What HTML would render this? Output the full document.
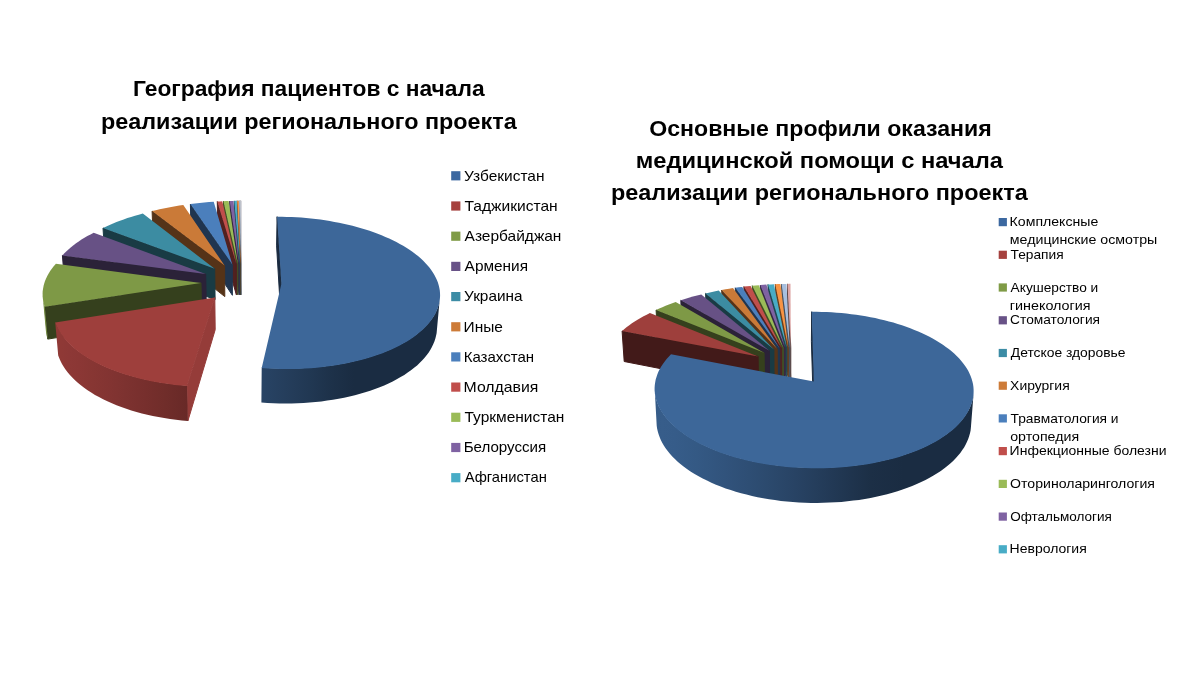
<!DOCTYPE html>
<html lang="ru"><head><meta charset="utf-8"><title>Диаграммы</title>
<style>
html,body{margin:0;padding:0;background:#fff;}
body{width:1200px;height:673px;overflow:hidden;font-family:"Liberation Sans",sans-serif;}
svg{display:block;}
text{font-family:"Liberation Sans",sans-serif;fill:#000;}
.t{font-weight:bold;}
</style></head><body>
<svg width="1200" height="673" viewBox="0 0 1200 673">
<rect width="1200" height="673" fill="#fff"/>
<defs><linearGradient id="Lg0_52" gradientUnits="userSpaceOnUse" x1="261.4" x2="439.6" y1="0" y2="0"><stop offset="0.001" stop-color="#284465"/><stop offset="0.135" stop-color="#253e5c"/><stop offset="0.268" stop-color="#213853"/><stop offset="0.397" stop-color="#1d3149"/><stop offset="0.519" stop-color="#1a2c42"/><stop offset="0.631" stop-color="#1a2c42"/><stop offset="0.731" stop-color="#1a2c42"/><stop offset="0.816" stop-color="#1a2c42"/><stop offset="0.886" stop-color="#1a2c42"/><stop offset="0.938" stop-color="#1a2c42"/><stop offset="0.973" stop-color="#1a2c42"/><stop offset="0.991" stop-color="#1a2c42"/></linearGradient><linearGradient id="Lg1_0" gradientUnits="userSpaceOnUse" x1="55.2" x2="187.9" y1="0" y2="0"><stop offset="0.011" stop-color="#8f3936"/><stop offset="0.048" stop-color="#8f3936"/><stop offset="0.106" stop-color="#8d3836"/><stop offset="0.183" stop-color="#8b3735"/><stop offset="0.280" stop-color="#873633"/><stop offset="0.396" stop-color="#833432"/><stop offset="0.528" stop-color="#7d3230"/><stop offset="0.674" stop-color="#772f2d"/><stop offset="0.831" stop-color="#702d2a"/><stop offset="0.996" stop-color="#682927"/></linearGradient><linearGradient id="Lg2_0" gradientUnits="userSpaceOnUse" x1="42.9" x2="47.7" y1="0" y2="0"><stop offset="0.313" stop-color="#71893f"/><stop offset="0.691" stop-color="#728a3f"/></linearGradient><linearGradient id="Rg0_50" gradientUnits="userSpaceOnUse" x1="654.9" x2="973.5" y1="0" y2="0"><stop offset="0.003" stop-color="#365c88"/><stop offset="0.021" stop-color="#375d8a"/><stop offset="0.064" stop-color="#365c89"/><stop offset="0.131" stop-color="#345984"/><stop offset="0.219" stop-color="#31537c"/><stop offset="0.324" stop-color="#2d4c71"/><stop offset="0.441" stop-color="#284364"/><stop offset="0.560" stop-color="#223955"/><stop offset="0.676" stop-color="#1c2f46"/><stop offset="0.781" stop-color="#1a2c42"/><stop offset="0.869" stop-color="#1a2c42"/><stop offset="0.936" stop-color="#1a2c42"/><stop offset="0.978" stop-color="#1a2c42"/><stop offset="0.996" stop-color="#1a2c42"/></linearGradient></defs>
<g id="pieL"><path d="M241.1 263.9L240.4 200.8L240.4 229.4L241.1 294.8Z" fill="#5a5a5c" stroke="#5a5a5c" stroke-width="1"/><path d="M241.1 263.9L241.1 200.8L241.1 229.4L241.1 294.8Z" fill="#d2d2d7" stroke="#d2d2d7" stroke-width="1"/><path d="M241.1 263.9L240.4 200.8L240.8 200.8L241.1 200.8Z" fill="#d6d6dc"/>
<path d="M240.9 263.9L239.1 200.8L239.2 229.4L240.9 294.8Z" fill="#4b525c" stroke="#4b525c" stroke-width="1"/><path d="M240.9 263.9L239.1 200.8L239.7 200.8L240.2 200.8Z" fill="#b2c4dc"/>
<path d="M240.5 263.9L237.2 200.8L237.3 229.4L240.5 294.8Z" fill="#683e1d" stroke="#683e1d" stroke-width="1"/><path d="M240.5 263.9L237.2 200.8L238.0 200.8L238.8 200.8Z" fill="#f79444"/>
<path d="M239.9 263.9L234.3 200.9L234.4 229.4L239.9 294.8Z" fill="#1e4853" stroke="#1e4853" stroke-width="1"/><path d="M239.9 263.9L234.3 200.9L235.5 200.8L236.7 200.8Z" fill="#48acc6"/>
<path d="M239.0 263.9L229.8 201.0L229.9 229.5L239.1 294.8Z" fill="#352944" stroke="#352944" stroke-width="1"/><path d="M239.0 263.9L229.8 201.0L231.6 200.9L233.5 200.9Z" fill="#7f62a2"/>
<path d="M237.8 264.0L223.5 201.2L223.8 229.8L237.8 294.9Z" fill="#414f25" stroke="#414f25" stroke-width="1"/><path d="M237.8 264.0L223.5 201.2L226.1 201.1L228.6 201.0Z" fill="#9abb57"/>
<path d="M236.4 264.0L217.3 201.5L217.7 230.1L236.4 294.9Z" fill="#512120" stroke="#512120" stroke-width="1"/><path d="M236.4 264.0L217.3 201.5L219.8 201.4L222.3 201.2Z" fill="#c04e4b"/>
<path d="M232.3 264.4L190.4 204.0L191.0 232.7L232.4 295.3Z" fill="#20354f" stroke="#20354f" stroke-width="1"/><path d="M232.3 264.4L190.4 204.0L195.0 203.5L199.6 202.9L204.3 202.5L209.0 202.1L213.7 201.8Z" fill="#4b7fbc"/>
<path d="M224.6 265.6L152.1 211.1L153.2 240.0L224.8 296.6Z" fill="#553318" stroke="#553318" stroke-width="1"/><path d="M224.6 265.6L152.1 211.1L155.8 210.2L159.6 209.3L163.5 208.5L167.4 207.7L171.3 206.9L175.3 206.3L179.3 205.6L183.3 205.1Z" fill="#ca7a38"/>
<path d="M214.7 268.7L103.0 228.0L104.9 257.6L215.1 299.7Z" fill="#193b44" stroke="#193b44" stroke-width="1"/><path d="M214.7 268.7L103.0 228.0L106.3 226.5L109.6 225.0L113.0 223.5L116.5 222.1L120.0 220.7L123.7 219.4L127.4 218.1L131.1 216.9L135.0 215.8L138.8 214.7L142.8 213.6Z" fill="#3c8ca2"/>
<path d="M205.7 274.1L62.4 255.4L64.9 286.0L206.3 305.4Z" fill="#2b2238" stroke="#2b2238" stroke-width="1"/><path d="M205.7 274.1L62.4 255.4L64.4 253.3L66.5 251.2L68.7 249.2L71.0 247.2L73.5 245.2L76.1 243.3L78.7 241.5L81.5 239.6L84.4 237.8L87.4 236.1L90.5 234.4L93.7 232.8Z" fill="#675185"/>
<path d="M201.0 282.9L44.7 306.7L47.7 339.1L201.6 314.5Z" fill="#35401d" stroke="#35401d" stroke-width="1"/><path d="M44.7 306.1L43.9 303.5L43.3 300.9L42.9 298.2L45.9 331.0L46.3 333.7L46.9 336.4L47.7 339.1Z" fill="url(#Lg2_0)"/><path d="M201.0 282.9L44.7 306.7L43.9 304.1L43.3 301.5L42.9 298.8L42.6 296.2L42.6 293.6L42.7 291.0L43.1 288.4L43.6 285.8L44.3 283.2L45.1 280.7L46.2 278.2L47.4 275.7L48.8 273.2L50.3 270.8L52.0 268.4L53.9 266.0L55.9 263.7Z" fill="#7e9946"/>
<path d="M281.4 283.8L277.1 216.7L276.6 245.9L280.8 315.4Z" fill="#1a2b40" stroke="#1a2b40" stroke-width="1"/><path d="M439.6 300.5L439.1 303.2L438.3 305.8L437.4 308.5L436.3 311.1L435.0 313.8L433.4 316.4L431.7 319.0L429.7 321.6L427.6 324.1L425.2 326.6L422.7 329.1L419.9 331.5L417.0 333.9L413.8 336.3L410.5 338.6L407.0 340.8L403.2 343.0L399.3 345.1L395.2 347.1L391.0 349.1L386.6 350.9L382.0 352.8L377.2 354.5L372.3 356.1L367.3 357.7L362.1 359.1L356.8 360.5L351.4 361.7L345.9 362.9L340.2 363.9L334.5 364.9L328.7 365.7L322.8 366.5L316.8 367.1L310.8 367.6L304.7 368.0L298.6 368.3L292.4 368.4L286.3 368.5L280.1 368.4L274.0 368.2L267.8 367.9L261.7 367.5L261.4 402.5L267.4 402.9L273.4 403.2L279.5 403.4L285.5 403.5L291.6 403.4L297.6 403.2L303.6 403.0L309.6 402.5L315.5 402.0L321.4 401.4L327.2 400.6L332.9 399.8L338.6 398.8L344.1 397.7L349.6 396.5L354.9 395.2L360.1 393.8L365.2 392.3L370.2 390.7L375.0 389.0L379.7 387.2L384.2 385.4L388.5 383.4L392.7 381.4L396.7 379.3L400.6 377.1L404.3 374.9L407.7 372.6L411.0 370.2L414.1 367.8L417.1 365.4L419.8 362.8L422.3 360.3L424.6 357.7L426.8 355.1L428.7 352.4L430.4 349.7L431.9 347.0L433.2 344.3L434.4 341.6L435.3 338.8L436.0 336.0L436.6 333.3Z" fill="url(#Lg0_52)"/><path d="M281.4 283.8L277.1 216.7L281.9 216.8L286.8 216.9L291.6 217.1L296.5 217.3L301.3 217.6L306.1 218.0L310.9 218.5L315.6 219.0L320.4 219.6L325.1 220.3L329.8 221.0L334.4 221.9L339.0 222.7L343.5 223.7L348.0 224.7L352.5 225.8L356.8 227.0L361.1 228.2L365.4 229.5L369.6 230.8L373.7 232.2L377.7 233.7L381.6 235.3L385.4 236.9L389.2 238.5L392.8 240.3L396.4 242.1L399.8 243.9L403.2 245.8L406.4 247.8L409.5 249.8L412.4 251.8L415.3 254.0L418.0 256.1L420.6 258.3L423.0 260.6L425.3 262.9L427.4 265.2L429.4 267.6L431.2 270.0L432.9 272.5L434.4 275.0L435.7 277.5L436.9 280.0L437.9 282.6L438.7 285.2L439.3 287.8L439.8 290.5L440.0 293.1L440.1 295.8L439.9 298.4L439.6 301.1L439.1 303.8L438.3 306.4L437.4 309.1L436.3 311.7L435.0 314.4L433.4 317.0L431.7 319.6L429.7 322.2L427.6 324.7L425.2 327.2L422.7 329.7L419.9 332.1L417.0 334.5L413.8 336.9L410.5 339.2L407.0 341.4L403.2 343.6L399.3 345.7L395.2 347.7L391.0 349.7L386.6 351.5L382.0 353.4L377.2 355.1L372.3 356.7L367.3 358.3L362.1 359.7L356.8 361.1L351.4 362.3L345.9 363.5L340.2 364.5L334.5 365.5L328.7 366.3L322.8 367.1L316.8 367.7L310.8 368.2L304.7 368.6L298.6 368.9L292.4 369.0L286.3 369.1L280.1 369.0L274.0 368.8L267.8 368.5L261.7 368.1Z" fill="#3d6799"/>
<path d="M214.8 297.6L187.0 386.0L187.9 420.9L215.2 329.7Z" fill="#953c39" stroke="#953c39" stroke-width="1"/><path d="M187.0 385.4L180.9 384.9L174.8 384.3L168.8 383.5L162.9 382.7L157.0 381.7L151.3 380.6L145.7 379.4L140.1 378.1L134.7 376.7L129.4 375.2L124.3 373.7L119.2 372.0L114.4 370.2L109.7 368.4L105.1 366.4L100.7 364.4L96.5 362.3L92.5 360.1L88.6 357.9L85.0 355.6L81.5 353.3L78.2 350.9L75.1 348.4L72.2 345.9L69.5 343.4L67.0 340.8L64.7 338.1L62.6 335.5L60.8 332.8L59.1 330.1L57.6 327.4L56.3 324.7L55.2 321.9L58.2 355.4L59.3 358.3L60.5 361.1L62.0 363.9L63.7 366.7L65.5 369.4L67.6 372.2L69.9 374.9L72.3 377.6L75.0 380.2L77.8 382.8L80.9 385.3L84.1 387.8L87.6 390.2L91.2 392.6L95.0 394.9L99.0 397.1L103.1 399.3L107.4 401.3L111.9 403.3L116.5 405.2L121.3 407.1L126.3 408.8L131.3 410.4L136.5 412.0L141.9 413.4L147.3 414.7L152.8 416.0L158.5 417.1L164.2 418.1L170.1 419.0L176.0 419.7L181.9 420.4L187.9 420.9Z" fill="url(#Lg1_0)"/><path d="M214.8 297.6L187.0 386.0L180.9 385.5L174.8 384.9L168.8 384.1L162.9 383.3L157.0 382.3L151.3 381.2L145.7 380.0L140.1 378.7L134.7 377.3L129.4 375.8L124.3 374.3L119.2 372.6L114.4 370.8L109.7 369.0L105.1 367.0L100.7 365.0L96.5 362.9L92.5 360.7L88.6 358.5L85.0 356.2L81.5 353.9L78.2 351.5L75.1 349.0L72.2 346.5L69.5 344.0L67.0 341.4L64.7 338.7L62.6 336.1L60.8 333.4L59.1 330.7L57.6 328.0L56.3 325.3L55.2 322.5Z" fill="#9e3f3c"/></g>
<g id="pieR"><path d="M790.8 347.6L787.5 283.9L787.5 312.9L790.8 378.7Z" fill="#5d4645" stroke="#5d4645" stroke-width="1"/><path d="M790.8 347.6L787.5 283.9L789.0 283.8L790.5 283.8Z" fill="#dea6a5"/>
<path d="M789.7 347.6L781.7 284.0L781.8 313.0L789.7 378.7Z" fill="#46505d" stroke="#46505d" stroke-width="1"/><path d="M789.7 347.6L781.7 284.0L784.1 283.9L786.5 283.9Z" fill="#a7bfde"/>
<path d="M788.3 347.7L775.3 284.2L775.5 313.2L788.4 378.7Z" fill="#683e1d" stroke="#683e1d" stroke-width="1"/><path d="M788.3 347.7L775.3 284.2L777.9 284.1L780.5 284.0Z" fill="#f79444"/>
<path d="M786.8 347.7L768.0 284.5L768.2 313.5L786.8 378.8Z" fill="#1e4853" stroke="#1e4853" stroke-width="1"/><path d="M786.8 347.7L768.0 284.5L770.9 284.4L773.9 284.2Z" fill="#48acc6"/>
<path d="M785.1 347.8L760.3 285.0L760.7 314.1L785.2 378.9Z" fill="#352944" stroke="#352944" stroke-width="1"/><path d="M785.1 347.8L760.3 285.0L763.4 284.8L766.4 284.6Z" fill="#7f62a2"/>
<path d="M783.4 348.0L752.3 285.7L752.7 314.8L783.5 379.1Z" fill="#414f25" stroke="#414f25" stroke-width="1"/><path d="M783.4 348.0L752.3 285.7L755.5 285.4L758.8 285.2Z" fill="#9abb57"/>
<path d="M781.6 348.2L743.9 286.6L744.5 315.7L781.7 379.3Z" fill="#512120" stroke="#512120" stroke-width="1"/><path d="M781.6 348.2L743.9 286.6L747.3 286.3L750.6 285.9Z" fill="#c04e4b"/>
<path d="M779.7 348.4L735.3 287.8L736.0 316.9L779.8 379.6Z" fill="#20354f" stroke="#20354f" stroke-width="1"/><path d="M779.7 348.4L735.3 287.8L738.7 287.3L742.2 286.9Z" fill="#4b7fbc"/>
<path d="M777.2 348.9L721.7 290.0L722.6 319.2L777.4 380.0Z" fill="#553318" stroke="#553318" stroke-width="1"/><path d="M777.2 348.9L721.7 290.0L725.5 289.3L729.2 288.7L733.0 288.1Z" fill="#ca7a38"/>
<path d="M773.9 349.6L705.6 293.4L706.6 322.7L774.1 380.7Z" fill="#193b44" stroke="#193b44" stroke-width="1"/><path d="M773.9 349.6L705.6 293.4L709.9 292.4L714.2 291.4L718.7 290.6Z" fill="#3c8ca2"/>
<path d="M769.4 350.8L680.8 300.3L682.1 329.9L769.6 382.0Z" fill="#2b2238" stroke="#2b2238" stroke-width="1"/><path d="M769.4 350.8L680.8 300.3L684.8 299.0L688.8 297.8L692.9 296.6L697.1 295.5L701.3 294.4Z" fill="#675185"/>
<path d="M764.1 352.8L656.1 310.0L657.8 339.8L764.5 384.1Z" fill="#35401d" stroke="#35401d" stroke-width="1"/><path d="M764.1 352.8L656.1 310.0L659.2 308.5L662.4 307.2L665.6 305.8L668.9 304.5L672.3 303.3L675.7 302.1Z" fill="#7e9946"/>
<path d="M758.1 356.4L622.1 331.0L624.2 361.5L758.5 387.8Z" fill="#421a19" stroke="#421a19" stroke-width="1"/><path d="M758.1 356.4L622.1 331.0L624.4 329.0L626.8 327.1L629.3 325.2L631.9 323.3L634.7 321.5L637.5 319.7L640.5 318.0L643.5 316.3L646.7 314.7L649.9 313.1Z" fill="#9e3f3c"/>
<path d="M813.9 381.6L811.7 311.7L811.4 341.6L813.6 413.8Z" fill="#1a2b40" stroke="#1a2b40" stroke-width="1"/><path d="M973.5 394.5L973.1 397.2L972.5 400.0L971.7 402.7L970.7 405.5L969.5 408.2L968.1 410.9L966.5 413.6L964.7 416.3L962.7 419.0L960.5 421.6L958.1 424.2L955.5 426.8L952.6 429.3L949.6 431.7L946.4 434.2L943.0 436.5L939.4 438.8L935.6 441.1L931.6 443.2L927.5 445.3L923.1 447.4L918.7 449.3L914.0 451.2L909.2 453.0L904.2 454.7L899.2 456.3L893.9 457.8L888.6 459.2L883.1 460.5L877.5 461.7L871.8 462.8L866.0 463.8L860.2 464.7L854.2 465.5L848.2 466.1L842.2 466.7L836.1 467.1L829.9 467.4L823.7 467.6L817.6 467.7L811.4 467.6L805.2 467.5L799.0 467.2L792.9 466.8L786.8 466.3L780.7 465.7L774.7 465.0L768.8 464.1L762.9 463.1L757.1 462.1L751.4 460.9L745.8 459.6L740.3 458.2L735.0 456.8L729.7 455.2L724.6 453.5L719.7 451.8L714.9 449.9L710.2 448.0L705.7 446.0L701.4 443.9L697.2 441.8L693.2 439.5L689.4 437.3L685.8 434.9L682.4 432.5L679.1 430.1L676.1 427.6L673.2 425.0L670.6 422.4L668.1 419.8L665.9 417.2L663.8 414.5L662.0 411.8L660.4 409.1L658.9 406.4L657.7 403.6L656.7 400.9L655.9 398.1L655.3 395.3L654.9 392.6L656.7 425.7L657.1 428.5L657.8 431.4L658.6 434.2L659.6 437.0L660.8 439.9L662.2 442.7L663.8 445.5L665.6 448.3L667.7 451.0L669.9 453.7L672.3 456.4L674.9 459.1L677.7 461.7L680.7 464.3L683.9 466.8L687.3 469.3L690.9 471.7L694.6 474.0L698.6 476.3L702.7 478.5L707.0 480.6L711.4 482.7L716.0 484.7L720.7 486.6L725.6 488.4L730.7 490.1L735.8 491.7L741.1 493.2L746.5 494.6L752.0 496.0L757.6 497.2L763.3 498.3L769.1 499.2L774.9 500.1L780.9 500.9L786.8 501.5L792.9 502.0L798.9 502.4L805.0 502.7L811.1 502.9L817.2 502.9L823.3 502.8L829.3 502.6L835.4 502.3L841.4 501.9L847.4 501.3L853.3 500.6L859.1 499.9L864.9 498.9L870.6 497.9L876.2 496.8L881.7 495.5L887.1 494.2L892.4 492.8L897.5 491.2L902.6 489.6L907.5 487.8L912.2 486.0L916.8 484.1L921.2 482.0L925.5 480.0L929.6 477.8L933.5 475.6L937.2 473.3L940.8 470.9L944.1 468.5L947.3 466.0L950.3 463.4L953.1 460.9L955.7 458.2L958.1 455.6L960.3 452.9L962.3 450.1L964.1 447.4L965.7 444.6L967.0 441.8L968.2 439.0L969.2 436.1L970.0 433.3L970.6 430.5L970.9 427.6Z" fill="url(#Rg0_50)"/><path d="M813.9 381.6L811.7 311.7L816.7 311.8L821.7 311.9L826.6 312.1L831.6 312.3L836.6 312.7L841.5 313.1L846.4 313.6L851.3 314.2L856.2 314.8L861.0 315.5L865.8 316.3L870.5 317.2L875.2 318.1L879.8 319.2L884.4 320.3L888.9 321.4L893.3 322.6L897.7 324.0L902.0 325.3L906.2 326.8L910.3 328.3L914.4 329.9L918.3 331.5L922.2 333.2L925.9 335.0L929.5 336.8L933.1 338.7L936.5 340.7L939.7 342.7L942.9 344.8L945.9 346.9L948.8 349.1L951.6 351.3L954.2 353.6L956.7 355.9L959.0 358.3L961.1 360.7L963.1 363.2L965.0 365.7L966.7 368.2L968.2 370.8L969.5 373.4L970.6 376.0L971.6 378.7L972.4 381.4L973.0 384.1L973.4 386.8L973.6 389.6L973.6 392.3L973.5 395.1L973.1 397.8L972.5 400.6L971.7 403.3L970.7 406.1L969.5 408.8L968.1 411.5L966.5 414.2L964.7 416.9L962.7 419.6L960.5 422.2L958.1 424.8L955.5 427.4L952.6 429.9L949.6 432.3L946.4 434.8L943.0 437.1L939.4 439.4L935.6 441.7L931.6 443.8L927.5 445.9L923.1 448.0L918.7 449.9L914.0 451.8L909.2 453.6L904.2 455.3L899.2 456.9L893.9 458.4L888.6 459.8L883.1 461.1L877.5 462.3L871.8 463.4L866.0 464.4L860.2 465.3L854.2 466.1L848.2 466.7L842.2 467.3L836.1 467.7L829.9 468.0L823.7 468.2L817.6 468.3L811.4 468.2L805.2 468.1L799.0 467.8L792.9 467.4L786.8 466.9L780.7 466.3L774.7 465.6L768.8 464.7L762.9 463.7L757.1 462.7L751.4 461.5L745.8 460.2L740.3 458.8L735.0 457.4L729.7 455.8L724.6 454.1L719.7 452.4L714.9 450.5L710.2 448.6L705.7 446.6L701.4 444.5L697.2 442.4L693.2 440.1L689.4 437.9L685.8 435.5L682.4 433.1L679.1 430.7L676.1 428.2L673.2 425.6L670.6 423.0L668.1 420.4L665.9 417.8L663.8 415.1L662.0 412.4L660.4 409.7L658.9 407.0L657.7 404.2L656.7 401.5L655.9 398.7L655.3 395.9L654.9 393.2L654.6 390.4L654.6 387.7L654.8 385.0L655.2 382.3L655.7 379.6L656.5 376.9L657.4 374.3L658.5 371.6L659.8 369.1L661.2 366.5L662.9 364.0L664.7 361.5L666.6 359.1L668.7 356.7L671.0 354.3Z" fill="#3d6799"/></g>

<text id="t0" x="132.98" y="96.2" font-size="22.50" class="t" textLength="351.65" lengthAdjust="spacingAndGlyphs">География пациентов с начала</text>
<text id="t1" x="100.94" y="128.8" font-size="22.50" class="t" textLength="415.81" lengthAdjust="spacingAndGlyphs">реализации регионального проекта</text>
<text id="t2" x="649.25" y="135.9" font-size="22.50" class="t" textLength="342.46" lengthAdjust="spacingAndGlyphs">Основные профили оказания</text>
<text id="t3" x="635.71" y="167.6" font-size="22.50" class="t" textLength="367.32" lengthAdjust="spacingAndGlyphs">медицинской помощи с начала</text>
<text id="t4" x="610.94" y="199.7" font-size="22.50" class="t" textLength="416.82" lengthAdjust="spacingAndGlyphs">реализации регионального проекта</text>
<text id="t5" x="464.10" y="180.5" font-size="14.40" textLength="80.35" lengthAdjust="spacingAndGlyphs">Узбекистан</text>
<text id="t6" x="464.52" y="210.7" font-size="14.40" textLength="93.18" lengthAdjust="spacingAndGlyphs">Таджикистан</text>
<text id="t7" x="464.64" y="240.9" font-size="14.40" textLength="96.81" lengthAdjust="spacingAndGlyphs">Азербайджан</text>
<text id="t8" x="464.64" y="271.1" font-size="14.40" textLength="63.36" lengthAdjust="spacingAndGlyphs">Армения</text>
<text id="t9" x="464.10" y="301.3" font-size="14.40" textLength="58.42" lengthAdjust="spacingAndGlyphs">Украина</text>
<text id="t10" x="463.62" y="331.5" font-size="14.40" textLength="39.35" lengthAdjust="spacingAndGlyphs">Иные</text>
<text id="t11" x="463.66" y="361.6" font-size="14.40" textLength="70.40" lengthAdjust="spacingAndGlyphs">Казахстан</text>
<text id="t12" x="463.59" y="391.8" font-size="14.40" textLength="74.83" lengthAdjust="spacingAndGlyphs">Молдавия</text>
<text id="t13" x="464.53" y="422.0" font-size="14.40" textLength="99.83" lengthAdjust="spacingAndGlyphs">Туркменистан</text>
<text id="t14" x="463.65" y="452.2" font-size="14.40" textLength="82.62" lengthAdjust="spacingAndGlyphs">Белоруссия</text>
<text id="t15" x="464.65" y="482.4" font-size="14.40" textLength="82.18" lengthAdjust="spacingAndGlyphs">Афганистан</text>
<text id="t16" x="1009.63" y="226.2" font-size="12.20" textLength="88.63" lengthAdjust="spacingAndGlyphs">Комплексные</text>
<text id="t17" x="1009.83" y="244.2" font-size="12.20" textLength="147.45" lengthAdjust="spacingAndGlyphs">медицинские осмотры</text>
<text id="t18" x="1010.57" y="258.9" font-size="12.20" textLength="53.04" lengthAdjust="spacingAndGlyphs">Терапия</text>
<text id="t19" x="1010.64" y="291.6" font-size="12.20" textLength="87.59" lengthAdjust="spacingAndGlyphs">Акушерство и</text>
<text id="t20" x="1009.82" y="309.6" font-size="12.20" textLength="80.79" lengthAdjust="spacingAndGlyphs">гинекология</text>
<text id="t21" x="1010.10" y="324.4" font-size="12.20" textLength="89.91" lengthAdjust="spacingAndGlyphs">Стоматология</text>
<text id="t22" x="1010.79" y="357.1" font-size="12.20" textLength="114.73" lengthAdjust="spacingAndGlyphs">Детское здоровье</text>
<text id="t23" x="1010.14" y="389.8" font-size="12.20" textLength="59.55" lengthAdjust="spacingAndGlyphs">Хирургия</text>
<text id="t24" x="1010.57" y="422.5" font-size="12.20" textLength="107.99" lengthAdjust="spacingAndGlyphs">Травматология и</text>
<text id="t25" x="1010.22" y="440.5" font-size="12.20" textLength="68.86" lengthAdjust="spacingAndGlyphs">ортопедия</text>
<text id="t26" x="1009.64" y="455.2" font-size="12.20" textLength="156.90" lengthAdjust="spacingAndGlyphs">Инфекционные болезни</text>
<text id="t27" x="1010.14" y="488.0" font-size="12.20" textLength="144.83" lengthAdjust="spacingAndGlyphs">Оториноларингология</text>
<text id="t28" x="1010.17" y="520.7" font-size="12.20" textLength="101.77" lengthAdjust="spacingAndGlyphs">Офтальмология</text>
<text id="t29" x="1009.64" y="553.4" font-size="12.20" textLength="77.13" lengthAdjust="spacingAndGlyphs">Неврология</text>
<rect x="451.2" y="171.2" width="9.2" height="9.2" fill="#3c68a0"/>
<rect x="451.2" y="201.4" width="9.2" height="9.2" fill="#a5413e"/>
<rect x="451.2" y="231.6" width="9.2" height="9.2" fill="#7f9b46"/>
<rect x="451.2" y="261.8" width="9.2" height="9.2" fill="#685287"/>
<rect x="451.2" y="292.0" width="9.2" height="9.2" fill="#3c8ca5"/>
<rect x="451.2" y="322.2" width="9.2" height="9.2" fill="#cd7b38"/>
<rect x="451.2" y="352.3" width="9.2" height="9.2" fill="#4b7fbc"/>
<rect x="451.2" y="382.5" width="9.2" height="9.2" fill="#c04e4b"/>
<rect x="451.2" y="412.7" width="9.2" height="9.2" fill="#9abb57"/>
<rect x="451.2" y="442.9" width="9.2" height="9.2" fill="#7f62a2"/>
<rect x="451.2" y="473.1" width="9.2" height="9.2" fill="#48acc6"/>
<rect x="998.7" y="218.0" width="8.2" height="8.2" fill="#3c68a0"/>
<rect x="998.7" y="250.7" width="8.2" height="8.2" fill="#a5413e"/>
<rect x="998.7" y="283.4" width="8.2" height="8.2" fill="#7f9b46"/>
<rect x="998.7" y="316.2" width="8.2" height="8.2" fill="#685287"/>
<rect x="998.7" y="348.9" width="8.2" height="8.2" fill="#3c8ca5"/>
<rect x="998.7" y="381.6" width="8.2" height="8.2" fill="#cd7b38"/>
<rect x="998.7" y="414.3" width="8.2" height="8.2" fill="#4b7fbc"/>
<rect x="998.7" y="447.0" width="8.2" height="8.2" fill="#c04e4b"/>
<rect x="998.7" y="479.8" width="8.2" height="8.2" fill="#9abb57"/>
<rect x="998.7" y="512.5" width="8.2" height="8.2" fill="#7f62a2"/>
<rect x="998.7" y="545.2" width="8.2" height="8.2" fill="#48acc6"/>

</svg>
</body></html>
